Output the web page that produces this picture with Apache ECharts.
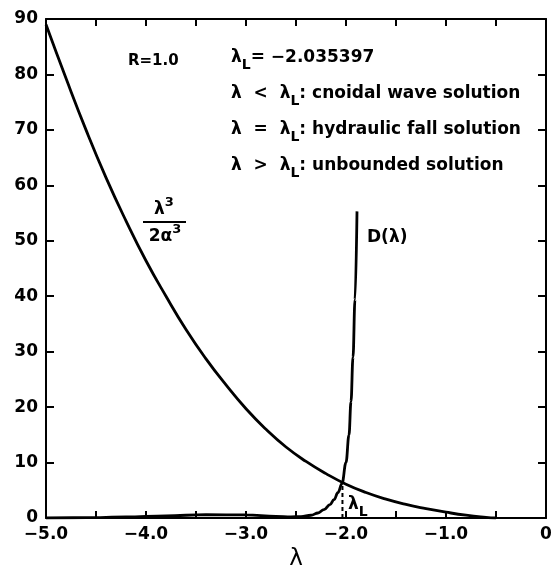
<!DOCTYPE html>
<html>
<head>
<meta charset="utf-8">
<script src="https://cdn.jsdelivr.net/npm/echarts@6/dist/echarts.min.js"></script>
<style>
  html, body { margin: 0; padding: 0; background: #fff; }
  #chart { width: 552px; height: 576px; }
</style>
</head>
<body>
<div id="chart"></div>
<script>
// lambda^3 / (2 alpha^3) curve
var lamCubic = [-5.0, -4.8, -4.6, -4.4, -4.2, -4.0, -3.8, -3.6, -3.4, -3.2, -3.0, -2.8,
	-2.6, -2.4, -2.2, -2.0, -1.8, -1.6, -1.4, -1.2, -1.0, -0.8, -0.6, -0.5];
var cubicVals = [89, 79.3, 70.0, 61.4, 53.6, 46.4, 40.0, 34.0, 28.7, 24.0, 19.7, 16.0,
	12.8, 10.2, 8.0, 6.1, 4.6, 3.4, 2.45, 1.7, 1.05, 0.5, 0.12, 0];

// D(lambda) curve
var lamD = [-5.0, -4.6, -4.2, -3.8, -3.4, -3.0, -2.7, -2.55, -2.45, -2.35, -2.28, -2.22,
	-2.16, -2.12, -2.08, -2.04, -2.0, -1.97, -1.95, -1.93, -1.91, -1.89];
var dVals = [0, 0.05, 0.2, 0.4, 0.6, 0.55, 0.3, 0.2, 0.25, 0.5, 0.9, 1.5,
	2.4, 3.3, 4.6, 6.2, 10.0, 15.0, 21.0, 29.0, 39.4, 55.3];

// lambda_L marker
var lambdaL = -2.035397;
var lambdaLTop = 6.2;

function pairs(xs, ys) {
	var out = [];
	for (var i = 0; i < xs.length; i++) {
		out.push([xs[i], ys[i]]);
	}
	return out;
}

var FONT = 'DejaVu Sans';
var axisLineStyle = { color : '#000', width : 2 };

function xLabel(v) {
	if (Math.abs(v - Math.round(v)) > 1e-6) return '';
	if (v === 0) return '0';
	return v.toFixed(1).replace('-', '\u2212');
}

// rich text styles for sub / superscripts
var richStyle = {
	m : { fontFamily : FONT, fontWeight : 'bold', fontSize : 17, lineHeight : 28, color : '#000' },
	r : { fontFamily : FONT, fontWeight : 'bold', fontSize : 15, lineHeight : 28, color : '#000' },
	s : { fontFamily : FONT, fontWeight : 'bold', fontSize : 14, lineHeight : 14, verticalAlign : 'bottom', color : '#000' },
	p : { fontFamily : FONT, fontWeight : 'bold', fontSize : 13, lineHeight : 13, verticalAlign : 'top', color : '#000' }
};

function note(x, y, text, align) {
	return {
		type : 'text',
		x : x,
		y : y,
		style : {
			text : text,
			rich : richStyle,
			textAlign : align || 'left',
			textVerticalAlign : 'middle'
		}
	};
}

var chart = echarts.init(document.getElementById('chart'));
var option = {
	animation : false,
	backgroundColor : '#fff',
	grid : {
		left : 46,
		right : 6,
		top : 19,
		bottom : 58,
		containLabel : false,
		outerBoundsMode : 'none'
	},
	xAxis : [ {
		type : 'value',
		position : 'bottom',
		min : -5,
		max : 0,
		interval : 0.5,
		axisLine : { show : true, onZero : false, lineStyle : axisLineStyle },
		axisTick : { show : true, inside : true, length : 7, lineStyle : axisLineStyle },
		axisLabel : {
			formatter : xLabel,
			color : '#000',
			fontFamily : FONT,
			fontWeight : 'bold',
			fontSize : 17,
			margin : 8,
			showMinLabel : true,
			showMaxLabel : true
		},
		splitLine : { show : false },
		name : '\u03bb',
		nameLocation : 'middle',
		nameGap : 24,
		nameTextStyle : { color : '#000', fontFamily : FONT, fontSize : 23 }
	}, {
		type : 'value',
		position : 'top',
		min : -5,
		max : 0,
		interval : 0.5,
		axisLine : { show : true, onZero : false, lineStyle : axisLineStyle },
		axisTick : { show : true, inside : true, length : 7, lineStyle : axisLineStyle },
		axisLabel : { show : false },
		splitLine : { show : false }
	} ],
	yAxis : [ {
		type : 'value',
		position : 'left',
		min : 0,
		max : 90,
		interval : 10,
		axisLine : { show : true, onZero : false, lineStyle : axisLineStyle },
		axisTick : { show : true, inside : true, length : 8, lineStyle : axisLineStyle },
		axisLabel : {
			color : '#000',
			fontFamily : FONT,
			fontWeight : 'bold',
			fontSize : 17,
			margin : 8
		},
		splitLine : { show : false }
	}, {
		type : 'value',
		position : 'right',
		min : 0,
		max : 90,
		interval : 10,
		axisLine : { show : true, onZero : false, lineStyle : axisLineStyle },
		axisTick : { show : true, inside : true, length : 8, lineStyle : axisLineStyle },
		axisLabel : { show : false },
		splitLine : { show : false }
	} ],
	series : [ {
		name : 'lambda3',
		type : 'line',
		data : pairs(lamCubic, cubicVals),
		showSymbol : false,
		smooth : true,
		lineStyle : { color : '#000', width : 2.8 }
	}, {
		name : 'D',
		type : 'line',
		data : pairs(lamD, dVals),
		showSymbol : false,
		smooth : 0.4,
		smoothMonotone : 'x',
		lineStyle : { color : '#000', width : 2.8 }
	}, {
		name : 'lambdaL',
		type : 'line',
		data : [ [ lambdaL, 0 ], [ lambdaL, lambdaLTop ] ],
		showSymbol : false,
		lineStyle : { color : '#000', width : 2, type : [ 4, 3 ] }
	} ],
	graphic : [
		note(128, 61, '{r|R=1.0}'),
		note(231, 58, '{m|\u03bb}{s|L}{m|= \u22122.035397}'),
		note(231, 94, '{m|\u03bb  <  \u03bb}{s|L}{m|: cnoidal wave solution}'),
		note(231, 130, '{m|\u03bb  =  \u03bb}{s|L}{m|: hydraulic fall solution}'),
		note(231, 166, '{m|\u03bb  >  \u03bb}{s|L}{m|: unbounded solution}'),
		note(164, 210, '{m|\u03bb}{p|3}', 'center'),
		{
			type : 'line',
			shape : { x1 : 143, y1 : 222, x2 : 186, y2 : 222 },
			style : { stroke : '#000', lineWidth : 2 }
		},
		note(165, 237, '{m|2\u03b1}{p|3}', 'center'),
		note(367, 238, '{m|D(\u03bb)}'),
		note(348, 505, '{m|\u03bb}{s|L}')
	]
};
chart.setOption(option);
</script>
</body>
</html>
